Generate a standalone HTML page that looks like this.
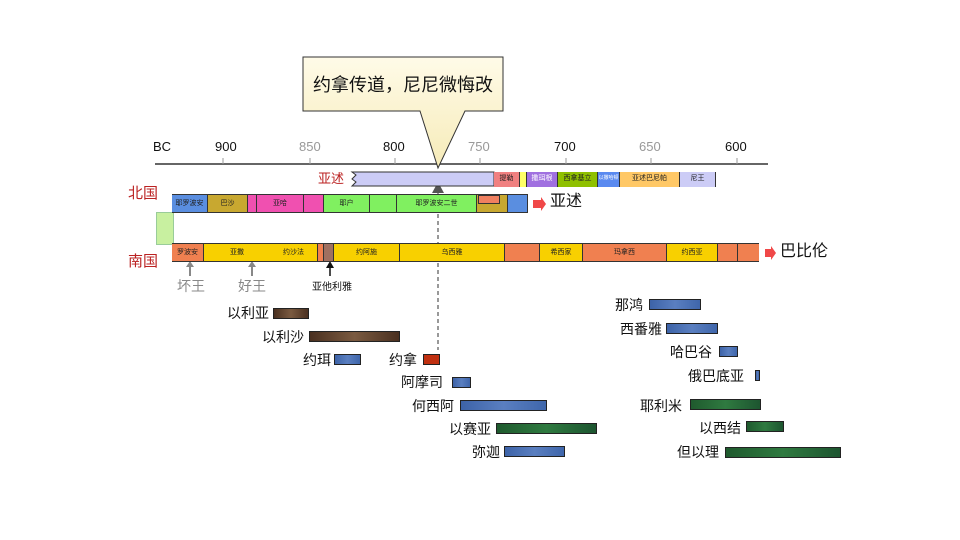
<!DOCTYPE html>
<html><head><meta charset="utf-8"><style>
body{margin:0;width:960px;height:540px;background:#fff;position:relative;overflow:hidden;font-family:"Liberation Sans","Noto Sans CJK SC",sans-serif}
.a{position:absolute}
.s{position:absolute;box-sizing:border-box;border-right:1px solid #333;font-size:7px;text-align:center;line-height:17px;color:#222;overflow:hidden;white-space:nowrap}
.t{position:absolute;font-size:14px;color:#111;white-space:nowrap;line-height:16px}
.b{position:absolute;height:11px;border:1px solid #222;box-sizing:border-box}
.bl{background:linear-gradient(90deg,#3d63a8,#5a7fc0 50%,#3f66ab)}
.gr{background:linear-gradient(90deg,#1f5a2e,#2f7a40 50%,#1d5530)}
.br{background:linear-gradient(90deg,#4a3020,#7a5a40 50%,#4a3020)}
</style></head><body>
<svg class="a" style="left:0;top:0" width="960" height="540">
<line x1="155" y1="164" x2="768" y2="164" stroke="#666" stroke-width="2"/>
<g stroke="#999"><line x1="223" y1="158" x2="223" y2="164"/><line x1="310" y1="158" x2="310" y2="164"/><line x1="395" y1="158" x2="395" y2="164"/><line x1="480" y1="158" x2="480" y2="164"/><line x1="566" y1="158" x2="566" y2="164"/><line x1="651" y1="158" x2="651" y2="164"/><line x1="737" y1="158" x2="737" y2="164"/></g>
<defs><linearGradient id="cg" x1="0" y1="0" x2="0" y2="1"><stop offset="0" stop-color="#fffbe8"/><stop offset="1" stop-color="#f6ebb8"/></linearGradient></defs>
<path d="M303,57 H503 V111 H465 L438,168 L420,111 H303 Z" fill="url(#cg)" stroke="#333" stroke-width="1"/>
<line x1="438" y1="186" x2="438" y2="350" stroke="#333" stroke-dasharray="4,3"/>
<polygon points="432,193 444,193 438,182" fill="#555"/>
<path d="M352,172 H494 V186 H352 L356,182 L352,179 L356,175 Z" fill="#ccccf6" stroke="#333"/>
<line x1="190" y1="276" x2="190" y2="264" stroke="#888" stroke-width="2"/><polygon points="186,267 194,267 190,261" fill="#888"/>
<line x1="252" y1="276" x2="252" y2="264" stroke="#888" stroke-width="2"/><polygon points="248,267 256,267 252,261" fill="#888"/>
<line x1="330" y1="276" x2="330" y2="264" stroke="#111" stroke-width="1.5"/><polygon points="326,268 334,268 330,261" fill="#111"/>
<path d="M533,200 H541 V197 L546,204 L541,211 V208 H533Z" fill="#f04848"/>
<path d="M765,249 H771 V246 L776,253 L771,260 V257 H765Z" fill="#f04848"/>
</svg>
<div class="t" style="left:153px;top:139px;font-size:13px">BC</div>
<div class="t" style="left:215px;top:139px;font-size:13px">900</div>
<div class="t" style="left:299px;top:139px;font-size:13px;color:#999">850</div>
<div class="t" style="left:383px;top:139px;font-size:13px">800</div>
<div class="t" style="left:468px;top:139px;font-size:13px;color:#999">750</div>
<div class="t" style="left:554px;top:139px;font-size:13px">700</div>
<div class="t" style="left:639px;top:139px;font-size:13px;color:#999">650</div>
<div class="t" style="left:725px;top:139px;font-size:13px">600</div>
<div class="t" style="left:313px;top:75px;font-size:18px;line-height:20px">约拿传道，尼尼微悔改</div>
<div class="t" style="left:318px;top:171px;color:#b22;font-size:13px">亚述</div>
<div class="a" style="left:494px;top:172px;width:222px;height:15px;border:1px solid #333;box-sizing:border-box"></div>
<div class="s" style="left:494px;top:172px;width:26px;height:15px;line-height:13px;background:#f08080">提勒</div>
<div class="s" style="left:520px;top:172px;width:7px;height:15px;background:#ff6">&nbsp;</div>
<div class="s" style="left:527px;top:172px;width:31px;height:15px;line-height:13px;background:#a070e0;color:#fff">撒珥根</div>
<div class="s" style="left:558px;top:172px;width:40px;height:15px;line-height:13px;background:#8fc000">西拿基立</div>
<div class="s" style="left:598px;top:172px;width:22px;height:15px;line-height:13px;background:#5a8af0;color:#fff;font-size:5px">以撒哈顿</div>
<div class="s" style="left:620px;top:172px;width:60px;height:15px;line-height:13px;background:#ffc866">亚述巴尼帕</div>
<div class="s" style="left:680px;top:172px;width:36px;height:15px;line-height:13px;background:#ccccf6">尼王</div>
<div class="t" style="left:128px;top:186px;color:#b22;font-size:15px">北国</div>
<div class="t" style="left:128px;top:254px;color:#b22;font-size:15px">南国</div>
<div class="a" style="left:156px;top:212px;width:16px;height:31px;background:#c8f0a0;border:1px solid #9c9"></div>
<div class="a" style="left:172px;top:194px;width:356px;height:19px;border:1px solid #333;box-sizing:border-box"></div>
<div class="s" style="left:172px;top:195px;width:36px;height:17px;background:#5a8ee0">耶罗波安</div>
<div class="s" style="left:208px;top:195px;width:40px;height:17px;background:#c8a830">巴沙</div>
<div class="s" style="left:248px;top:195px;width:9px;height:17px;background:#f050b0"></div>
<div class="s" style="left:257px;top:195px;width:47px;height:17px;background:#f050b0">亚哈</div>
<div class="s" style="left:304px;top:195px;width:20px;height:17px;background:#f050b0"></div>
<div class="s" style="left:324px;top:195px;width:46px;height:17px;background:#80f060">耶户</div>
<div class="s" style="left:370px;top:195px;width:27px;height:17px;background:#80f060"></div>
<div class="s" style="left:397px;top:195px;width:80px;height:17px;background:#80f060">耶罗波安二世</div>
<div class="s" style="left:477px;top:195px;width:31px;height:17px;background:#c8a830"></div>
<div class="a" style="left:478px;top:195px;width:20px;height:7px;background:#f08060;border:1px solid #333"></div>
<div class="s" style="left:508px;top:195px;width:20px;height:17px;background:#5a8ee0"></div>
<div class="t" style="left:550px;top:194px;font-size:16px">亚述</div>
<div class="a" style="left:172px;top:243px;width:587px;height:19px;border:1px solid #333;box-sizing:border-box"></div>
<div class="s" style="left:172px;top:244px;width:32px;height:17px;background:#f08050">罗波安</div>
<div class="s" style="left:204px;top:244px;width:66px;height:17px;background:#f8d000;border-right:none">亚撒</div>
<div class="s" style="left:270px;top:244px;width:48px;height:17px;background:#f8d000">约沙法</div>
<div class="s" style="left:318px;top:244px;width:6px;height:17px;background:#f08050"></div>
<div class="s" style="left:324px;top:244px;width:10px;height:17px;background:#a07060"></div>
<div class="s" style="left:334px;top:244px;width:66px;height:17px;background:#f8d000">约阿施</div>
<div class="s" style="left:400px;top:244px;width:105px;height:17px;background:#f8d000">乌西雅</div>
<div class="s" style="left:505px;top:244px;width:35px;height:17px;background:#f08050"></div>
<div class="s" style="left:540px;top:244px;width:43px;height:17px;background:#f8d000">希西家</div>
<div class="s" style="left:583px;top:244px;width:84px;height:17px;background:#f08050">玛拿西</div>
<div class="s" style="left:667px;top:244px;width:51px;height:17px;background:#f8d000">约西亚</div>
<div class="s" style="left:718px;top:244px;width:20px;height:17px;background:#f08050"></div>
<div class="s" style="left:738px;top:244px;width:21px;height:17px;background:#f08050;border-right:none"></div>
<div class="t" style="left:780px;top:244px;font-size:16px">巴比伦</div>
<div class="t" style="left:177px;top:278px;color:#888">坏王</div>
<div class="t" style="left:238px;top:278px;color:#888">好王</div>
<div class="t" style="left:312px;top:280px;font-size:10px">亚他利雅</div>
<div class="t" style="left:227px;top:305px">以利亚</div><div class="b br" style="left:273px;top:308px;width:36px"></div>
<div class="t" style="left:262px;top:329px">以利沙</div><div class="b br" style="left:309px;top:331px;width:91px"></div>
<div class="t" style="left:303px;top:352px">约珥</div><div class="b bl" style="left:334px;top:354px;width:27px"></div>
<div class="t" style="left:389px;top:352px">约拿</div><div class="b" style="left:423px;top:354px;width:17px;background:#c03010"></div>
<div class="t" style="left:401px;top:374px">阿摩司</div><div class="b bl" style="left:452px;top:377px;width:19px"></div>
<div class="t" style="left:412px;top:398px">何西阿</div><div class="b bl" style="left:460px;top:400px;width:87px"></div>
<div class="t" style="left:449px;top:421px">以赛亚</div><div class="b gr" style="left:496px;top:423px;width:101px"></div>
<div class="t" style="left:472px;top:444px">弥迦</div><div class="b bl" style="left:504px;top:446px;width:61px"></div>
<div class="t" style="left:615px;top:297px">那鸿</div><div class="b bl" style="left:649px;top:299px;width:52px"></div>
<div class="t" style="left:620px;top:321px">西番雅</div><div class="b bl" style="left:666px;top:323px;width:52px"></div>
<div class="t" style="left:670px;top:344px">哈巴谷</div><div class="b bl" style="left:719px;top:346px;width:19px"></div>
<div class="t" style="left:688px;top:368px">俄巴底亚</div><div class="b bl" style="left:755px;top:370px;width:5px"></div>
<div class="t" style="left:640px;top:398px">耶利米</div><div class="b gr" style="left:690px;top:399px;width:71px"></div>
<div class="t" style="left:699px;top:420px">以西结</div><div class="b gr" style="left:746px;top:421px;width:38px"></div>
<div class="t" style="left:677px;top:444px">但以理</div><div class="b gr" style="left:725px;top:447px;width:116px"></div>
</body></html>
